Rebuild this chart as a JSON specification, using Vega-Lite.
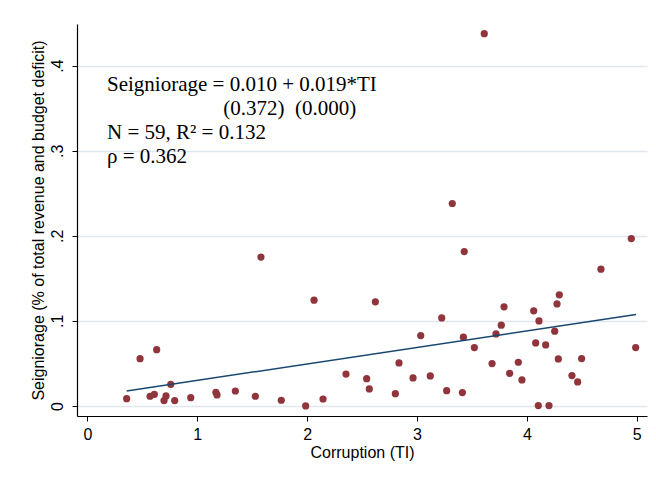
{
  "$schema": "https://vega.github.io/schema/vega-lite/v6.json",
  "width": 570,
  "height": 392,
  "autosize": {"type": "none"},
  "padding": {"left": 77, "top": 24, "right": 9, "bottom": 61},
  "background": "white",
  "config": {
    "view": {"stroke": null},
    "font": "Liberation Sans"
  },
  "datasets": {
    "pts": [
      {"ti": 0.358, "s": 0.0086}, {"ti": 0.48, "s": 0.0556}, {"ti": 0.631, "s": 0.0662},
      {"ti": 0.759, "s": 0.0255}, {"ti": 0.571, "s": 0.0114}, {"ti": 0.61, "s": 0.0137},
      {"ti": 0.698, "s": 0.0063}, {"ti": 0.716, "s": 0.0118}, {"ti": 0.795, "s": 0.0063},
      {"ti": 0.941, "s": 0.0098}, {"ti": 1.17, "s": 0.016}, {"ti": 1.18, "s": 0.013},
      {"ti": 1.347, "s": 0.0176}, {"ti": 1.529, "s": 0.0114}, {"ti": 1.765, "s": 0.0067},
      {"ti": 1.987, "s": 0.0}, {"ti": 2.145, "s": 0.0082}, {"ti": 2.063, "s": 0.1243},
      {"ti": 2.354, "s": 0.0375}, {"ti": 1.58, "s": 0.175},
      {"ti": 2.542, "s": 0.0321}, {"ti": 2.566, "s": 0.02}, {"ti": 2.621, "s": 0.1224},
      {"ti": 2.803, "s": 0.0145}, {"ti": 2.836, "s": 0.0506}, {"ti": 2.964, "s": 0.0329},
      {"ti": 3.034, "s": 0.0827}, {"ti": 3.121, "s": 0.0353}, {"ti": 3.225, "s": 0.1035},
      {"ti": 3.27, "s": 0.018}, {"ti": 3.413, "s": 0.0157}, {"ti": 3.422, "s": 0.0808},
      {"ti": 3.522, "s": 0.0686}, {"ti": 3.683, "s": 0.0498}, {"ti": 3.719, "s": 0.0847},
      {"ti": 3.767, "s": 0.0949}, {"ti": 3.792, "s": 0.1165}, {"ti": 3.843, "s": 0.0384},
      {"ti": 3.922, "s": 0.0514}, {"ti": 3.955, "s": 0.0306}, {"ti": 4.062, "s": 0.1118},
      {"ti": 4.08, "s": 0.0741}, {"ti": 4.11, "s": 0.1}, {"ti": 4.104, "s": 0.0004},
      {"ti": 4.171, "s": 0.0718}, {"ti": 4.201, "s": 0.0004}, {"ti": 4.253, "s": 0.0879},
      {"ti": 4.274, "s": 0.12}, {"ti": 4.295, "s": 0.1306}, {"ti": 4.286, "s": 0.0553},
      {"ti": 4.41, "s": 0.0357}, {"ti": 4.462, "s": 0.0282}, {"ti": 4.498, "s": 0.0557},
      {"ti": 4.674, "s": 0.1608}, {"ti": 4.99, "s": 0.0686},
      {"ti": 3.612, "s": 0.4376}, {"ti": 3.321, "s": 0.238}, {"ti": 3.43, "s": 0.1815},
      {"ti": 4.95, "s": 0.1968}
    ],
    "fit": [
      {"ti": 0.358, "s": 0.0175},
      {"ti": 4.993, "s": 0.1076}
    ],
    "notes": [
      {"ti": 0.179, "s": 0.3706, "label": "Seigniorage = 0.010 + 0.019*TI"},
      {"ti": 1.236, "s": 0.3424, "label": "(0.372)\u00a0\u00a0(0.000)"},
      {"ti": 0.179, "s": 0.3141, "label": "N = 59, R² = 0.132"},
      {"ti": 0.179, "s": 0.2859, "label": "ρ = 0.362"}
    ]
  },
  "encoding": {
    "x": {
      "field": "ti", "type": "quantitative",
      "scale": {"domain": [-0.094, 5.093], "nice": false, "zero": false},
      "axis": {
        "title": "Corruption (TI)",
        "values": [0, 1, 2, 3, 4, 5],
        "grid": false,
        "domainColor": "black", "domainWidth": 1.2,
        "tickColor": "black", "tickSize": 5, "tickWidth": 1,
        "labelColor": "black", "labelFontSize": 16, "labelPadding": 5,
        "titleColor": "black", "titleFontSize": 16, "titleFontWeight": "normal", "titlePadding": 2
      }
    },
    "y": {
      "field": "s", "type": "quantitative",
      "scale": {"domain": [-0.0118, 0.449], "nice": false, "zero": false},
      "axis": {
        "title": "Seigniorage (% of total revenue and budget deficit)",
        "values": [0, 0.1, 0.2, 0.3, 0.4],
        "labelExpr": "datum.value == 0 ? '0' : replace(format(datum.value, '.1f'), '0.', '.')",
        "grid": true, "gridColor": "#e1e7f0", "gridWidth": 1.5,
        "domainColor": "black", "domainWidth": 1.2,
        "tickColor": "black", "tickSize": 5, "tickWidth": 1,
        "labelAngle": -90, "labelAlign": "center", "labelBaseline": "bottom",
        "labelColor": "black", "labelFontSize": 16, "labelPadding": 7,
        "titleColor": "black", "titleFontSize": 16, "titleFontWeight": "normal", "titlePadding": 3
      }
    }
  },
  "layer": [
    {
      "data": {"name": "pts"},
      "mark": {"type": "circle", "size": 52, "color": "#90353b", "opacity": 1}
    },
    {
      "data": {"name": "fit"},
      "mark": {"type": "line", "color": "#1a476f", "strokeWidth": 1.5}
    },
    {
      "data": {"name": "notes"},
      "mark": {"type": "text", "align": "left", "baseline": "alphabetic", "font": "Liberation Serif", "fontSize": 21, "color": "black"},
      "encoding": {"text": {"field": "label"}}
    }
  ]
}
